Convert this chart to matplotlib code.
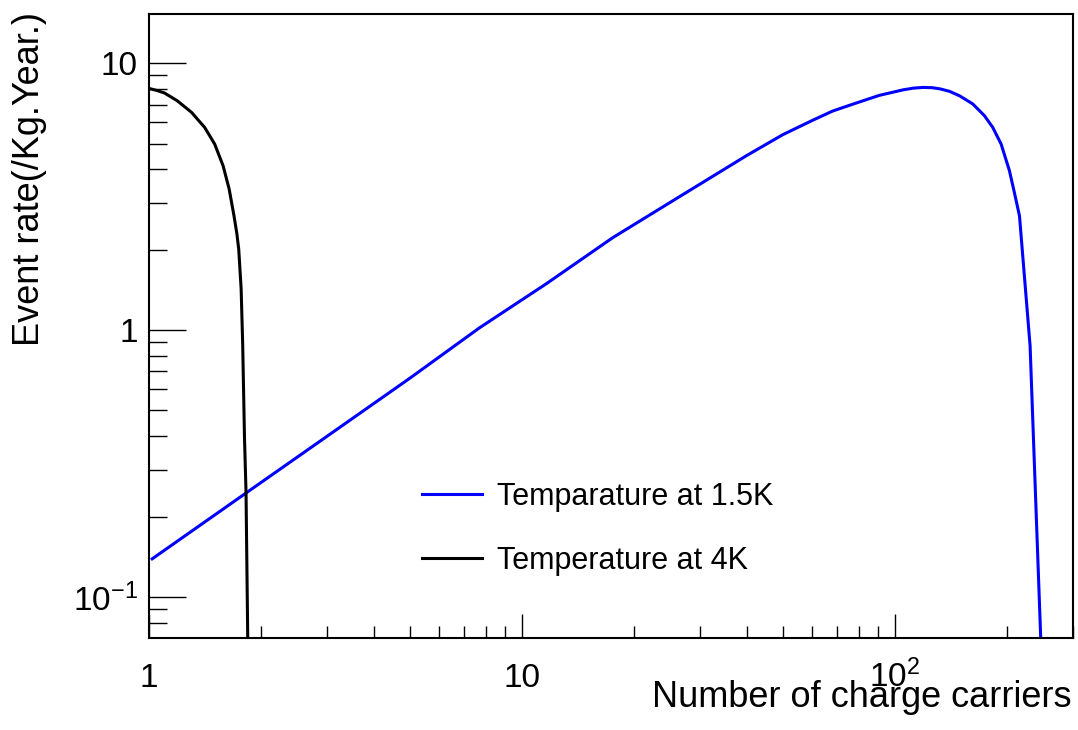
import matplotlib
matplotlib.use('Agg')
import matplotlib.pyplot as plt
from matplotlib.ticker import FixedLocator, FixedFormatter, LogLocator, NullFormatter

plt.rcParams['font.family'] = ['Liberation Sans', 'DejaVu Sans']
plt.rcParams['mathtext.fontset'] = 'custom'
plt.rcParams['mathtext.rm'] = 'Liberation Sans'
plt.rcParams['mathtext.it'] = 'Liberation Sans:italic'

# ------------------------------------------------------------------
# data
# ------------------------------------------------------------------
n_15k = [1.02, 2.0, 3.0, 5.0, 7.69, 11.6, 17.5, 26.4, 39.9, 50.0, 60.2,
         68.0, 76.9, 90.7, 105.0, 112.0, 119.0, 126.0, 132.0, 140.0, 149.0,
         161.6, 173.7, 182.8, 192.5, 202.6, 208.9, 215.6, 230.2, 246.0]
rate_15k = [0.139, 0.269, 0.400, 0.660, 1.02, 1.49, 2.22, 3.16, 4.50, 5.40,
            6.12, 6.62, 7.02, 7.58, 7.95, 8.07, 8.12, 8.10, 8.02, 7.85, 7.55,
            7.04, 6.36, 5.75, 4.98, 3.96, 3.28, 2.68, 0.873, 0.068]

n_4k = [1.0, 1.05, 1.10, 1.19, 1.30, 1.41, 1.50, 1.58, 1.64, 1.69, 1.72,
        1.74, 1.766, 1.783, 1.803, 1.82, 1.84]
rate_4k = [8.05, 7.91, 7.74, 7.24, 6.55, 5.75, 4.98, 4.13, 3.38, 2.68, 2.30,
           2.01, 1.43, 0.886, 0.395, 0.248, 0.068]

x_ticks = [1, 10, 100]
x_ticklabels = ['1', '10', '$10^{2}$']
y_ticks = [0.1, 1, 10]
y_ticklabels = ['$10^{-1}$', '1', '10']

# ------------------------------------------------------------------
# figure
# ------------------------------------------------------------------
fig = plt.figure(figsize=(10.78, 7.30), dpi=100, facecolor='white')
ax = fig.add_axes([149 / 1078, 1 - 638 / 730, 924 / 1078, 624 / 730])

ax.plot(n_15k, rate_15k, color='#0000ff', linewidth=2.2,
        label='Temparature at 1.5K')
ax.plot(n_4k, rate_4k, color='black', linewidth=2.2,
        label='Temperature at 4K')

ax.set_xscale('log')
ax.set_yscale('log')
ax.set_xlim(1, 300)
ax.set_ylim(0.0702, 15.3)

ax.xaxis.set_major_locator(FixedLocator(x_ticks))
ax.xaxis.set_major_formatter(FixedFormatter(x_ticklabels))
ax.xaxis.set_minor_locator(LogLocator(base=10, subs=range(2, 10), numticks=20))
ax.xaxis.set_minor_formatter(NullFormatter())
ax.yaxis.set_major_locator(FixedLocator(y_ticks))
ax.yaxis.set_major_formatter(FixedFormatter(y_ticklabels))
ax.yaxis.set_minor_locator(LogLocator(base=10, subs=range(2, 10), numticks=20))
ax.yaxis.set_minor_formatter(NullFormatter())

ax.tick_params(axis='both', which='both', direction='in', top=False,
               right=False, width=1.0, colors='black', labelsize=24)
ax.tick_params(axis='x', which='major', length=17.3, pad=35)
ax.tick_params(axis='x', which='minor', length=8.6)
ax.tick_params(axis='y', which='major', length=26.6, pad=8)
ax.tick_params(axis='y', which='minor', length=13.0)
# ROOT puts the x labels on a common baseline
plt.setp(ax.get_xticklabels(), va='baseline')

for spine in ax.spines.values():
    spine.set_linewidth(1.5)
    spine.set_edgecolor('black')

fig.text(1071 / 1078, 1 - 707 / 730, 'Number of charge carriers',
         fontsize=26, ha='right', va='baseline')
fig.text(30 / 1078, 1 - 12 / 730, 'Event rate(/Kg.Year.)',
         fontsize=26, rotation=90, ha='center', va='top')

ax.legend(loc='upper left', bbox_to_anchor=(421.7 / 1078, 1 - 482 / 730),
          bbox_transform=fig.transFigure, frameon=False, fontsize=22,
          handlelength=1.96, handletextpad=0.5, labelspacing=1.11,
          borderpad=0, borderaxespad=0)

fig.savefig('out.png', dpi=100, facecolor='white')
